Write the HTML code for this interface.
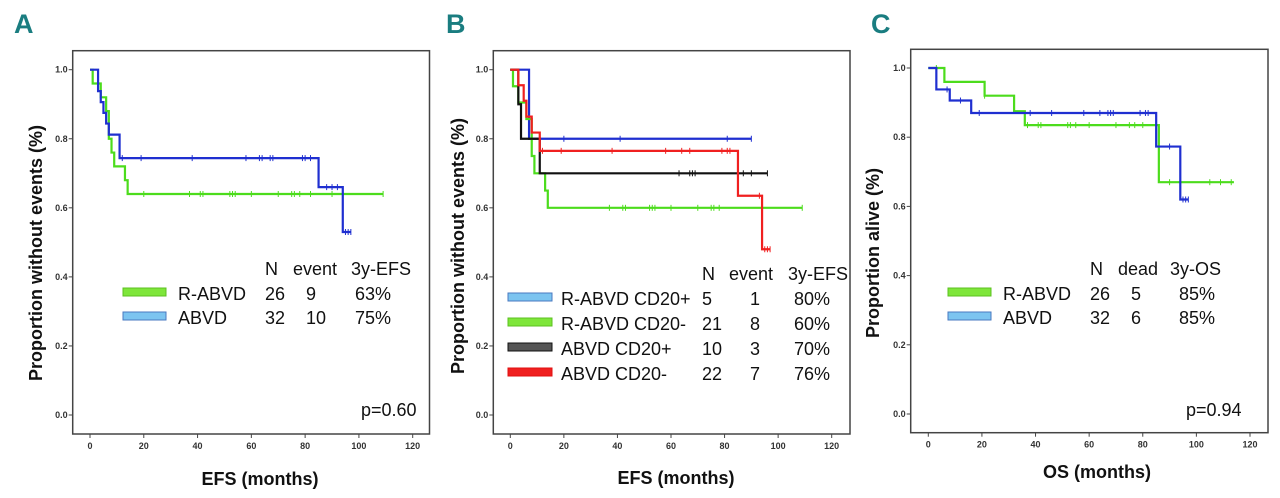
<!DOCTYPE html>
<html><head><meta charset="utf-8"><style>
html,body{margin:0;padding:0;background:#fff;}
svg{display:block;font-family:"Liberation Sans",sans-serif;}
.tick{font-size:9px;font-weight:bold;fill:#333;}
.leg{font-size:18px;fill:#111;}
.ttl{font-size:18px;font-weight:bold;fill:#111;}
.letter{font-size:27px;font-weight:bold;fill:#1a7d80;}
</style></head><body>
<svg id="chart" width="1280" height="498" viewBox="0 0 1280 498"></svg>
<script>
// ---- Panel A data ----
const aGreenT=[0,1,4,6,7,8,9,13,14,109];
const aGreenS=[1,0.96,0.92,0.88,0.80,0.76,0.72,0.68,0.64,0.64];
const aGreenC=[20,37,41,42,52,53,54,60,70,75,76,78,82,90,94,109];
const aBlueT=[0,3,4,5,6,7,8,11,85,94,97];
const aBlueS=[1,0.938,0.906,0.875,0.844,0.812,0.812,0.744,0.66,0.53,0.53];
const aBlueC=[12,19,38,58,63,64,67,68,79,80,82,88,90,92,95,96,97];
// ---- Panel B data ----
const bBlueT=[0,7,90];
const bBlueS=[1,0.8,0.8];
const bBlueC=[20,41,81,90];
const bGreenT=[0,1,3,6,8,9,13,14,109];
const bGreenS=[1,0.952,0.905,0.857,0.75,0.70,0.65,0.60,0.60];
const bGreenC=[37,42,43,52,53,54,60,70,75,76,78,109];
const bBlackT=[0,3,4,11,96];
const bBlackS=[1,0.9,0.8,0.7,0.7];
const bBlackC=[63,67,68,69,87,90,96];
const bRedT=[0,3,5,6,8,11,85,94,97];
const bRedS=[1,0.955,0.91,0.864,0.818,0.765,0.635,0.48,0.48];
const bRedC=[12,19,38,58,64,67,79,81,82,93,95,96,97];
// ---- Panel C data ----
const cGreenT=[0,6,21,32,36,86,114];
const cGreenS=[1,0.96,0.92,0.875,0.835,0.67,0.67];
const cGreenC=[3,21,37,41,42,52,53,55,60,70,75,77,80,90,105,109,113];
const cBlueT=[0,3,8,16,85,94,97];
const cBlueS=[1,0.938,0.906,0.87,0.773,0.62,0.62];
const cBlueC=[7,12,19,38,46,58,64,67,68,69,79,81,82,90,95,96,97];
const xTicks=[0,20,40,60,80,100,120];
const yTicks=[0.0,0.2,0.4,0.6,0.8,1.0];

const svg=document.getElementById('chart');
const NS='http://www.w3.org/2000/svg';
function mk(tag,attrs,parent){const e=document.createElementNS(NS,tag);for(const k in attrs)e.setAttribute(k,attrs[k]);(parent||svg).appendChild(e);return e;}
function txt(x,y,s,cls,parent,anchor){const t=mk('text',{x:x,y:y,class:cls,'text-anchor':anchor||'start'},parent);t.textContent=s;return t;}

function panel(p){
  const g=mk('g',{});
  
  
  const X=v=>p.x0+(v/120)*(p.x120-p.x0);
  const Y=v=>p.y0-(v)*(p.y0-p.y1);
  const fr=mk('rect',{x:p.fl,y:p.ft,width:p.fr-p.fl,height:p.fb-p.ft,fill:'none',stroke:'#444','stroke-width':1.5},g);
  
  xTicks.forEach(v=>{mk('line',{x1:X(v),x2:X(v),y1:p.fb,y2:p.fb+4,stroke:'#444'},g);
    const t=txt(X(v),p.fb+15,String(v),'tick',g,'middle');});
  yTicks.forEach(v=>{mk('line',{x1:p.fl-4,x2:p.fl,y1:Y(v),y2:Y(v),stroke:'#444'},g);
    const t=txt(p.fl-5,Y(v)+3,v.toFixed(1),'tick',g,'end');});
  p.series.forEach(s=>{
    let d='M'+X(s.t[0])+','+Y(s.s[0]);
    for(let i=1;i<s.t.length;i++){d+=' H'+X(s.t[i])+' V'+Y(s.s[i]);}
    const path=mk('path',{d:d,fill:'none',stroke:s.c,'stroke-width':2.2},g);
    
    
    s.cens.forEach(ct=>{let sv=s.s[0];for(let i=0;i<s.t.length;i++){if(s.t[i]<=ct)sv=s.s[i];}
      const l=mk('line',{x1:X(ct),x2:X(ct),y1:Y(sv)-3,y2:Y(sv)+3,stroke:s.c,'stroke-width':1},g);
      
      });
  });
  const L=txt(p.lx,p.ly,p.letter,'letter',g);
  const yt=txt(0,0,p.ytitle,'ttl',g,'middle');yt.setAttribute('transform','translate('+p.ytx+','+p.yty+') rotate(-90)');
  
  const xt=txt(p.xtx,p.xty,p.xtitle,'ttl',g,'middle');
  p.header.forEach(h=>{const t=txt(h[0],p.hy,h[1],'leg',g);});
  p.legend.forEach((r,i)=>{const y=p.rows[i];
    const sw=mk('rect',{x:p.swx,y:y-12,width:p.sww,height:8,fill:r.fill,stroke:r.stroke,'stroke-width':1},g);
    
    r.cells.forEach((c,j)=>{const t=txt(p.cols[j],y,c,'leg',g);});
  });
  if(p.pval){const t=txt(p.px,p.py,p.pval,'leg',g);}
}
const GR='#4cdc1c',BL='#1f2fd0';
panel({name:'panel-a',letter:'A',lx:14,ly:33,fl:72.7,ft:50.7,fr:429.5,fb:434,x0:90,x120:412.7,y0:415,y1:69.7,
  ytitle:'Proportion without events (%)',ytx:42,yty:253,xtitle:'EFS (months)',xtx:260,xty:485,
  series:[{n:'r-abvd',c:GR,t:aGreenT,s:aGreenS,cens:aGreenC},{n:'abvd',c:BL,t:aBlueT,s:aBlueS,cens:aBlueC}],
  hy:275,header:[[265,'N'],[293,'event'],[351,'3y-EFS']],rows:[300,324],swx:123,sww:43,cols:[178,265,306,355],
  legend:[{fill:'#7ee63a',stroke:'#5cc020',cells:['R-ABVD','26','9','63%']},{fill:'#7cc4f0',stroke:'#4a7ac0',cells:['ABVD','32','10','75%']}],
  pval:'p=0.60',px:361,py:416});
panel({name:'panel-b',letter:'B',lx:446,ly:33,fl:493.3,ft:50.7,fr:850,fb:434,x0:510.3,x120:831.7,y0:415,y1:69.7,
  ytitle:'Proportion without events (%)',ytx:464,yty:246,xtitle:'EFS (months)',xtx:676,xty:484,
  series:[{n:'r-abvd-cd20pos',c:BL,t:bBlueT,s:bBlueS,cens:bBlueC},{n:'r-abvd-cd20neg',c:GR,t:bGreenT,s:bGreenS,cens:bGreenC},
          {n:'abvd-cd20pos',c:'#111',t:bBlackT,s:bBlackS,cens:bBlackC},{n:'abvd-cd20neg',c:'#f02020',t:bRedT,s:bRedS,cens:bRedC}],
  hy:280,header:[[702,'N'],[729,'event'],[788,'3y-EFS']],rows:[305,330,355,380],swx:508,sww:44,cols:[561,702,750,794],
  legend:[{fill:'#7cc4f0',stroke:'#4a7ac0',cells:['R-ABVD CD20+','5','1','80%']},{fill:'#7ee63a',stroke:'#5cc020',cells:['R-ABVD CD20-','21','8','60%']},
          {fill:'#555',stroke:'#111',cells:['ABVD CD20+','10','3','70%']},{fill:'#f02020',stroke:'#e01010',cells:['ABVD CD20-','22','7','76%']}]});
panel({name:'panel-c',letter:'C',lx:871,ly:33,fl:910.7,ft:49.3,fr:1268,fb:432.7,x0:928.3,x120:1250,y0:414,y1:68,
  ytitle:'Proportion alive (%)',ytx:879,yty:253,xtitle:'OS (months)',xtx:1097,xty:478,
  series:[{n:'r-abvd',c:GR,t:cGreenT,s:cGreenS,cens:cGreenC},{n:'abvd',c:BL,t:cBlueT,s:cBlueS,cens:cBlueC}],
  hy:275,header:[[1090,'N'],[1118,'dead'],[1170,'3y-OS']],rows:[300,324],swx:948,sww:43,cols:[1003,1090,1131,1179],
  legend:[{fill:'#7ee63a',stroke:'#5cc020',cells:['R-ABVD','26','5','85%']},{fill:'#7cc4f0',stroke:'#4a7ac0',cells:['ABVD','32','6','85%']}],
  pval:'p=0.94',px:1186,py:416});
</script>
</body></html>
